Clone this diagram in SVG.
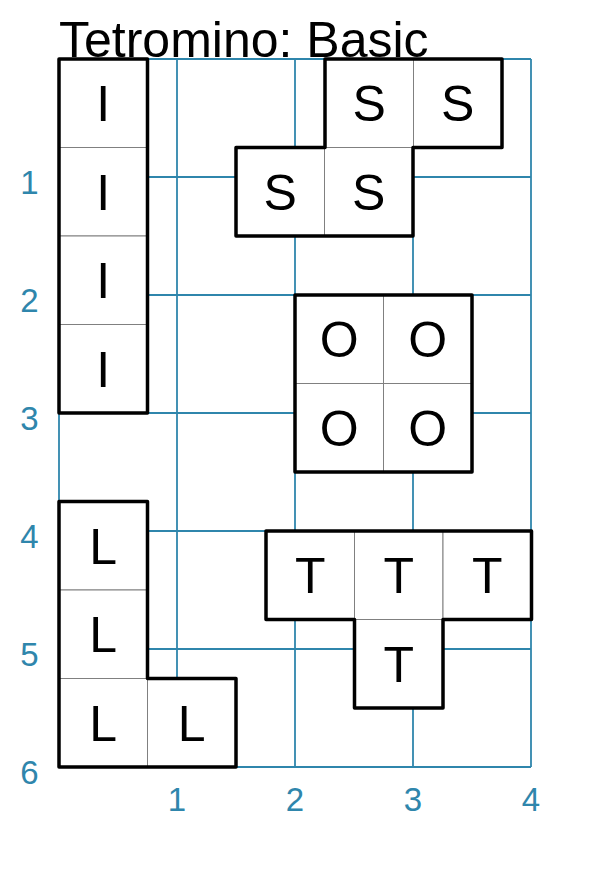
<svg xmlns="http://www.w3.org/2000/svg" width="613" height="875" viewBox="0 0 613 875">
<style>
.grid line{stroke:#2f86ac;stroke-width:1.8}
.ax{font-family:"Liberation Sans",Arial,sans-serif;font-size:33px;fill:#2f86ac;text-anchor:middle}
.cell{fill:#fff;stroke:#808080;stroke-width:1}
.outline{fill:none;stroke:#000;stroke-width:3.5;stroke-linejoin:round}
.lbl{font-family:"Liberation Sans",Arial,sans-serif;font-size:50px;fill:#000;text-anchor:middle}
.title{font-family:"Liberation Sans",Arial,sans-serif;font-size:50px;fill:#000}
</style>
<rect width="613" height="875" fill="#fff"/>
<g id="grid" class="grid">
<line x1="59" y1="59" x2="59" y2="767"/>
<line x1="177" y1="59" x2="177" y2="767"/>
<line x1="295" y1="59" x2="295" y2="767"/>
<line x1="413" y1="59" x2="413" y2="767"/>
<line x1="531" y1="59" x2="531" y2="767"/>
<line x1="59" y1="59" x2="531" y2="59"/>
<line x1="59" y1="177" x2="531" y2="177"/>
<line x1="59" y1="295" x2="531" y2="295"/>
<line x1="59" y1="413" x2="531" y2="413"/>
<line x1="59" y1="531" x2="531" y2="531"/>
<line x1="59" y1="649" x2="531" y2="649"/>
<line x1="59" y1="767" x2="531" y2="767"/>
</g>
<g id="axis-labels">
<text class="ax" x="29.5" y="194">1</text>
<text class="ax" x="29.5" y="312">2</text>
<text class="ax" x="29.5" y="430">3</text>
<text class="ax" x="29.5" y="548">4</text>
<text class="ax" x="29.5" y="666">5</text>
<text class="ax" x="29.5" y="784">6</text>
<text class="ax" x="177" y="811">1</text>
<text class="ax" x="295" y="811">2</text>
<text class="ax" x="413" y="811">3</text>
<text class="ax" x="531" y="811">4</text>
</g>
<g id="piece-I">
<rect class="cell" x="59" y="59" width="88.5" height="88.5"/>
<rect class="cell" x="59" y="147.5" width="88.5" height="88.5"/>
<rect class="cell" x="59" y="236" width="88.5" height="88.5"/>
<rect class="cell" x="59" y="324.5" width="88.5" height="88.5"/>
<path class="outline" d="M59,59 H147.5 V413 H59 Z"/>
<text class="lbl" x="103.25" y="121.25">I</text>
<text class="lbl" x="103.25" y="209.75">I</text>
<text class="lbl" x="103.25" y="298.25">I</text>
<text class="lbl" x="103.25" y="386.75">I</text>
</g>
<g id="piece-S">
<rect class="cell" x="325" y="59" width="88.5" height="88.5"/>
<rect class="cell" x="413.5" y="59" width="88.5" height="88.5"/>
<rect class="cell" x="236" y="147.5" width="88.5" height="88.5"/>
<rect class="cell" x="324.5" y="147.5" width="88.5" height="88.5"/>
<path class="outline" d="M325,59 H502 V147.5 H413 V236 H236 V147.5 H325 Z"/>
<text class="lbl" x="369.25" y="121.25">S</text>
<text class="lbl" x="457.75" y="121.25">S</text>
<text class="lbl" x="280.25" y="209.75">S</text>
<text class="lbl" x="368.75" y="209.75">S</text>
</g>
<g id="piece-O">
<rect class="cell" x="295" y="295" width="88.5" height="88.5"/>
<rect class="cell" x="383.5" y="295" width="88.5" height="88.5"/>
<rect class="cell" x="295" y="383.5" width="88.5" height="88.5"/>
<rect class="cell" x="383.5" y="383.5" width="88.5" height="88.5"/>
<path class="outline" d="M295,295 H472 V472 H295 Z"/>
<text class="lbl" x="339.25" y="357.25">O</text>
<text class="lbl" x="427.75" y="357.25">O</text>
<text class="lbl" x="339.25" y="445.75">O</text>
<text class="lbl" x="427.75" y="445.75">O</text>
</g>
<g id="piece-L">
<rect class="cell" x="59" y="501.5" width="88.5" height="88.5"/>
<rect class="cell" x="59" y="590" width="88.5" height="88.5"/>
<rect class="cell" x="59" y="678.5" width="88.5" height="88.5"/>
<rect class="cell" x="147.5" y="678.5" width="88.5" height="88.5"/>
<path class="outline" d="M59,501.5 H147.5 V678.5 H236 V767 H59 Z"/>
<text class="lbl" x="103.25" y="563.75">L</text>
<text class="lbl" x="103.25" y="652.25">L</text>
<text class="lbl" x="103.25" y="740.75">L</text>
<text class="lbl" x="191.75" y="740.75">L</text>
</g>
<g id="piece-T">
<rect class="cell" x="266" y="531" width="88.5" height="88.5"/>
<rect class="cell" x="354.5" y="531" width="88.5" height="88.5"/>
<rect class="cell" x="443" y="531" width="88.5" height="88.5"/>
<rect class="cell" x="354.5" y="619.5" width="88.5" height="88.5"/>
<path class="outline" d="M266,531 H531.5 V619.5 H443 V708 H354.5 V619.5 H266 Z"/>
<text class="lbl" x="310.25" y="593.25">T</text>
<text class="lbl" x="398.75" y="593.25">T</text>
<text class="lbl" x="487.25" y="593.25">T</text>
<text class="lbl" x="398.75" y="681.75">T</text>
</g>
<text id="title" class="title" x="59" y="57">Tetromino: Basic</text>
</svg>
